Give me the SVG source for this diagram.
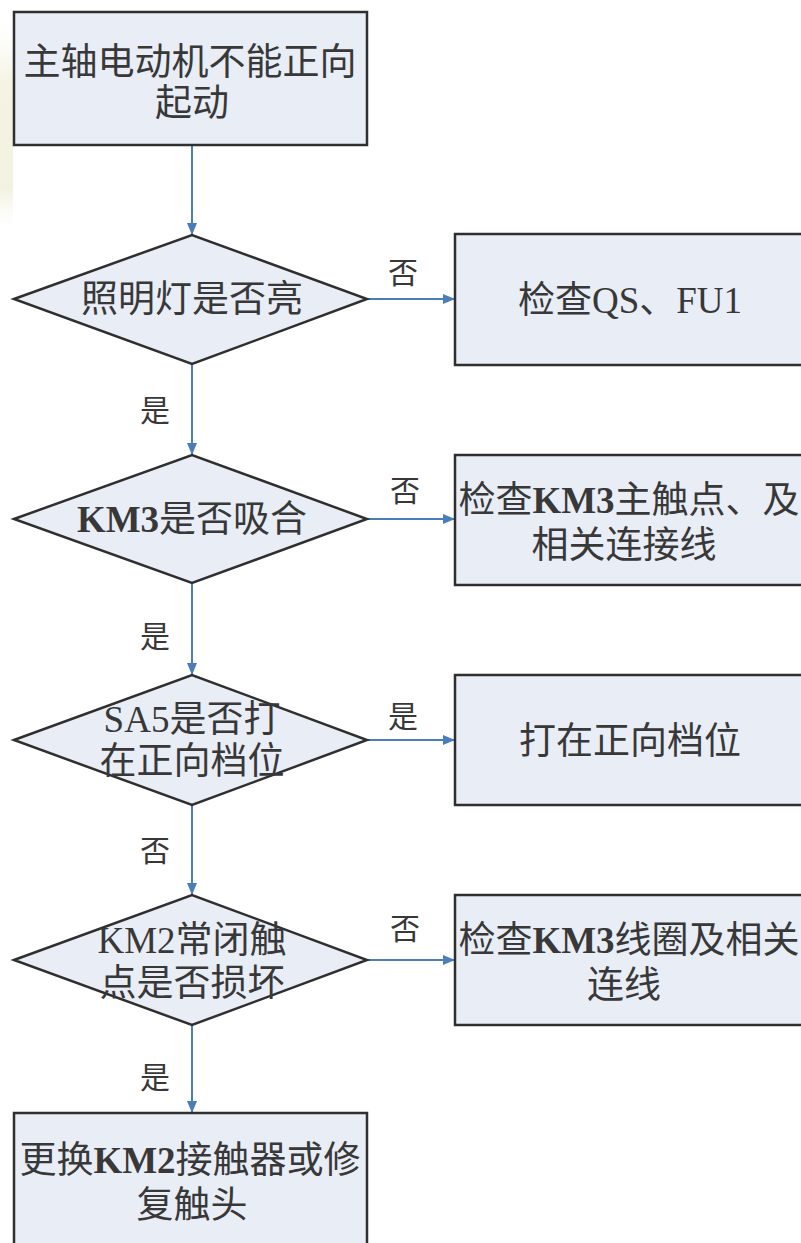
<svg xmlns="http://www.w3.org/2000/svg" width="801" height="1243" viewBox="0 0 801 1243">
<defs>
<style>
.box{fill:#e8edf6;stroke:#2f2f2f;stroke-width:2.5}
.t{font-family:"Liberation Serif","Noto Sans CJK SC",serif;font-size:37px;fill:#383838;text-anchor:middle;dominant-baseline:central}
.lb{font-family:"Liberation Serif","Noto Sans CJK SC",serif;font-size:30px;fill:#383838;text-anchor:middle;dominant-baseline:central}
.b{font-weight:bold}
.c{stroke:#4a7ebb;stroke-width:2;fill:none;marker-end:url(#ah)}
</style>
<marker id="ah" viewBox="0 0 12 10" refX="12" refY="5" markerWidth="12" markerHeight="10" markerUnits="userSpaceOnUse" orient="auto">
<path d="M0,0 L12,5 L0,10 Z" fill="#4a7ebb"/>
</marker>
<linearGradient id="bg" x1="0" y1="0" x2="0" y2="1">
<stop offset="0" stop-color="#fbfaf0" stop-opacity="0"/>
<stop offset="0.3" stop-color="#f5f3e2"/>
<stop offset="0.8" stop-color="#f3f1e0"/>
<stop offset="1" stop-color="#fbfaf2" stop-opacity="0"/>
</linearGradient>
</defs>
<rect x="0" y="0" width="801" height="1243" fill="#ffffff"/>
<rect x="0" y="20" width="13" height="210" fill="url(#bg)"/>

<g id="connectors">
<line class="c" x1="192" y1="145" x2="192" y2="235"/>
<line class="c" x1="367" y1="299" x2="455" y2="299"/>
<line class="c" x1="192" y1="364" x2="192" y2="455"/>
<line class="c" x1="367" y1="519" x2="455" y2="519"/>
<line class="c" x1="192" y1="583" x2="192" y2="675"/>
<line class="c" x1="367" y1="740" x2="455" y2="740"/>
<line class="c" x1="192" y1="805" x2="192" y2="895"/>
<line class="c" x1="367" y1="960" x2="455" y2="960"/>
<line class="c" x1="192" y1="1025" x2="192" y2="1113"/>
<text class="lb" x="403" y="272">否</text>
<text class="lb" x="155" y="410">是</text>
<text class="lb" x="405" y="490">否</text>
<text class="lb" x="155" y="636">是</text>
<text class="lb" x="403" y="716">是</text>
<text class="lb" x="155" y="850">否</text>
<text class="lb" x="405" y="928">否</text>
<text class="lb" x="155" y="1077">是</text>
</g>

<g id="start">
<rect class="box" x="14" y="12" width="353" height="133"/>
<text class="t" x="190" y="62">主轴电动机不能正向</text>
<text class="t" x="192" y="103">起动</text>
</g>

<g id="d1">
<polygon class="box" points="14,299 192,235 367,299 192,364"/>
<text class="t" x="192" y="299">照明灯是否亮</text>
</g>
<g id="r1">
<rect class="box" x="455" y="234" width="348" height="131"/>
<text class="t" x="630" y="300">检查QS、FU1</text>
</g>

<g id="d2">
<polygon class="box" points="14,519 192,455 367,519 192,583"/>
<text class="t" x="192" y="519"><tspan class="b">KM3</tspan>是否吸合</text>
</g>
<g id="r2">
<rect class="box" x="455" y="455" width="348" height="130"/>
<text class="t" x="629" y="500">检查<tspan class="b">KM3</tspan>主触点、及</text>
<text class="t" x="624" y="545">相关连接线</text>
</g>

<g id="d3">
<polygon class="box" points="14,740 192,675 367,740 192,805"/>
<text class="t" x="192" y="719">SA5是否打</text>
<text class="t" x="192" y="761">在正向档位</text>
</g>
<g id="r3">
<rect class="box" x="455" y="675" width="348" height="130"/>
<text class="t" x="630" y="741">打在正向档位</text>
</g>

<g id="d4">
<polygon class="box" points="14,960 192,895 367,960 192,1025"/>
<text class="t" x="192" y="940">KM2常闭触</text>
<text class="t" x="192" y="983">点是否损坏</text>
</g>
<g id="r4">
<rect class="box" x="455" y="895" width="348" height="130"/>
<text class="t" x="629" y="940">检查<tspan class="b">KM3</tspan>线圈及相关</text>
<text class="t" x="624" y="985">连线</text>
</g>

<g id="end">
<rect class="box" x="14" y="1113" width="353" height="140"/>
<text class="t" x="190" y="1160">更换<tspan class="b">KM2</tspan>接触器或修</text>
<text class="t" x="192" y="1205">复触头</text>
</g>
</svg>
